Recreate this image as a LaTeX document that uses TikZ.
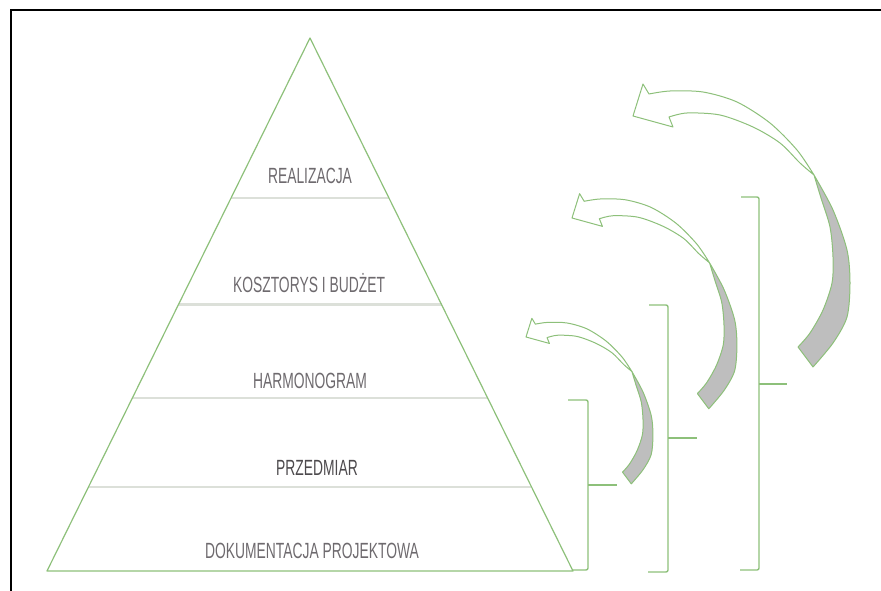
\documentclass[tikz,border=0pt]{standalone}
\usepackage{fontspec}
\newfontfamily\pyrfont{Liberation Sans}[FakeStretch=0.63]
\usepackage{tikz}
\usetikzlibrary{calc}
\usepackage{xcolor}
\definecolor{leafgreen}{HTML}{8DC07A}
\definecolor{levelgray}{HTML}{DCE0D9}
\definecolor{labelgray}{HTML}{6E6A6E}
\definecolor{twistgray}{HTML}{BEBEBE}

\begin{document}
\begin{tikzpicture}[
    x=1pt, y=-1pt,
    lvltext/.style={font={\pyrfont\fontsize{22}{22}\selectfont}, text=labelgray,
                    inner sep=0pt, anchor=base},
    side/.style={draw=leafgreen, line width=1.2pt, line join=round},
    level/.style={draw=levelgray, line width=2.5pt},
    brace/.style={draw=leafgreen, line width=1.4pt, rounded corners=2pt},
    band/.style={draw=leafgreen, line width=1pt, line join=round, fill=white},
    twist/.style={draw=leafgreen, line width=1pt, line join=round, fill=twistgray}
]
\useasboundingbox (0,0) rectangle (881,591);
\draw[black, line width=1.3pt] (881,10) -- (11,10) -- (11,591);

% pyramid
\coordinate (apex) at (310,38);
\coordinate (bl) at (47,571);
\coordinate (br) at (573,571);
\foreach \t in {0.158,0.325,0.5,0.7}
  \draw[level] ($(bl)!\t!(apex)$) -- ($(br)!\t!(apex)$);
\draw[side] (bl) -- (apex) -- (br) -- cycle;

\node[lvltext] (real)  at (310,183) {REALIZACJA};
\node[lvltext] (koszt) at (309,292) {KOSZTORYS I BUDŻET};
\node[lvltext] (harm)  at (310,388) {HARMONOGRAM};
\node[lvltext, text=labelgray!70!black] (przed) at (317,475) {PRZEDMIAR};
\node[lvltext] (dok)   at (312,558) {DOKUMENTACJA PROJEKTOWA};

% brackets
\draw[brace] (568,400) -- (588,400) -- (588,570) -- (573,570);
\draw[brace] (588,485) -- (617,485);
\draw[brace] (649,305) -- (668,305) -- (668,572) -- (648,572);
\draw[brace] (668,438) -- (697,438);
\draw[brace] (741,197) -- (759,197) -- (759,570) -- (740,570);
\draw[brace] (759,384) -- (787,384);

% twisted arrows
\foreach \ax/\ay/\k in {633/116/1, 572/218/0.76, 526/337/0.585}{
  \begin{scope}[shift={(\ax,\ay)}, scale=\k]
    \path[band] plot[smooth] coordinates {(16,-22) (37,-25) (70,-24) (104,-14) (137,7) (164,34) (181,59)}
      -- plot[smooth] coordinates {(181,59) (167,47) (147,27) (120,11) (87,-1) (54,-3) (36,1)}
      -- (40,11) -- (0,0) -- (10,-32) -- cycle;
    \path[twist] plot[smooth] coordinates {(181,59) (200,94) (214,134) (217,167) (214,201) (200,227) (180,251)}
      -- (165,231)
      -- plot[smooth] coordinates {(165,231) (177,217) (190,194) (199,167) (200,141) (197,111) (188,82) (181,59)} -- cycle;
  \end{scope}
}
\end{tikzpicture}
\end{document}
